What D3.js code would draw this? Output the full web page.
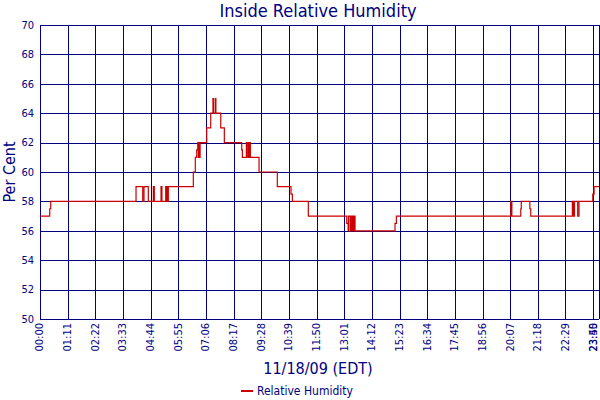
<!DOCTYPE html>
<html><head><meta charset="utf-8">
<script src="https://cdn.jsdelivr.net/npm/d3@7"></script>
<style>
body{margin:0;background:#fff}
text{font-family:"DejaVu Sans Condensed","DejaVu Sans",sans-serif;font-stretch:condensed;fill:#000080}
</style>
</head><body><svg id="c" width="600" height="400"></svg>
<script>
// minutes after midnight (11/18/09) and relative humidity (%)
const times = [0,25,27.5,246.5,263.7,267,278,291,293.5,310.7,313,322.7,324,326.8,328,329.4,
  393.6,398.7,402.3,404.9,406.5,408,409.5,411,428,438.3,444,445.5,450,451.5,464,473.2,
  517.8,519.5,529.8,533.2,535,536.5,539,540,562.3,609.2,644.4,647.8,688.8,
  787.4,791,791.8,796,796.8,799.4,800.2,802.8,803.6,806.2,807,808.7,911.4,914.8,
  1208.5,1209.3,1210.5,1211.3,1234.2,1235.5,1257.5,1259.8,
  1366.6,1367.5,1369.5,1370.3,1372,1380.3,1383.7,1419,1422.4,1435];
const humidity = [57,57.5,58,59,58,59,58,59,58,59,58,59,58,59,58,59,
  60,61,61.5,62,61,62,61,62,63,64,65,64,65,64,63,62,
  61.5,61,62,61,62,61,62,61,60,59,58.5,58,57,
  56.5,56,57,56,57,56,57,56,57,56,57,56,56.5,57,
  58,57,58,57,57.5,58,57.5,57,
  58,57,58,57,58,57,58,58.5,59,59];
const tickMinutes = [0,71,142,213,284,355,426,497,568,639,710,781,852,923,994,1065,1136,1207,1278,1349,1420,1435];
const tickLabels = ["00:00","01:11","02:22","03:33","04:44","05:55","07:06","08:17","09:28","10:39","11:50",
  "13:01","14:12","15:23","16:34","17:45","18:56","20:07","21:18","22:29","23:40","23:55"];
const yTicks = [50,52,54,56,58,60,62,64,66,68,70];
const title = "Inside Relative Humidity";
const xTitle = "11/18/09 (EDT)";
const yTitle = "Per Cent";
const seriesName = "Relative Humidity";

const navy = "#000080", red = "#cc0000";
const L = 40, R = 599, T = 25, B = 319;
const svg = d3.select("#c");
const x = d3.scaleLinear().domain([0,1435]).range([L,R]);
const y = d3.scaleLinear().domain([50,70]).range([B,T]);

// grid
const g = svg.append("g").attr("shape-rendering","crispEdges").attr("stroke",navy).attr("stroke-width",1);
g.selectAll(".v").data(tickMinutes).join("line")
  .attr("x1",d=>Math.round(x(d))+0.5).attr("x2",d=>Math.round(x(d))+0.5)
  .attr("y1",T).attr("y2",B);
g.selectAll(".h").data(yTicks).join("line")
  .attr("y1",d=>Math.round(y(d))+0.5).attr("y2",d=>Math.round(y(d))+0.5)
  .attr("x1",L).attr("x2",R);

// x tick labels
const xa = d3.axisBottom(x).tickValues(tickMinutes).tickFormat((d,i)=>tickLabels[i]).tickSize(0);
const gx = svg.append("g").attr("transform",`translate(0,${B})`).call(xa);
gx.select(".domain").remove();
gx.selectAll(".tick").attr("transform",d=>`translate(${Math.min(x(d)-0.5,593)},0)`);
gx.selectAll("text").attr("font-size",11).attr("fill",navy)
  .attr("font-family",null)
  .attr("transform","rotate(-90)").attr("text-anchor","end")
  .attr("x",-4).attr("y",0).attr("dy","0.35em");

// y tick labels
const ya = d3.axisLeft(y).tickValues(yTicks).tickSize(0);
const gy = svg.append("g").attr("transform",`translate(${L},0)`).call(ya);
gy.select(".domain").remove();
gy.selectAll("text").attr("font-size",11).attr("fill",navy).attr("font-family",null)
  .attr("x",-6).attr("dy","0.3em");

// series
const pts = times.map((t,i)=>[t,humidity[i]]);
svg.append("path").datum(pts)
  .attr("fill","none").attr("stroke",red).attr("stroke-width",1.2)
  .attr("d", d3.line().x(d=>x(d[0])).y(d=>y(d[1])).curve(d3.curveStepAfter));

// titles
svg.append("text").attr("x",318).attr("y",17).attr("text-anchor","middle").attr("font-size",18).text(title);
svg.append("text").attr("x",318).attr("y",374).attr("text-anchor","middle").attr("font-size",16).text(xTitle);
svg.append("text").attr("transform","translate(15,172) rotate(-90)").attr("text-anchor","middle").attr("font-size",16).text(yTitle);

// legend
svg.append("line").attr("x1",241).attr("x2",253).attr("y1",391).attr("y2",391).attr("stroke",red).attr("stroke-width",2);
svg.append("text").attr("x",257).attr("y",395).attr("font-size",12).text(seriesName);
</script>
</body></html>
